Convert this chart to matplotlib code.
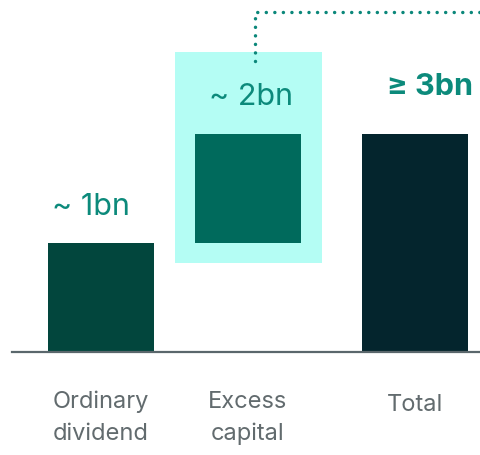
import matplotlib
matplotlib.use("Agg")
import matplotlib.pyplot as plt
from matplotlib.patches import Rectangle

categories = ["Ordinary\ndividend", "Excess\ncapital", "Total"]
bottoms = [0, 1, 0]
heights = [1, 1, 2]
value_labels = ["~ 1bn", "~ 2bn", "≥ 3bn"]

positions = [0, 1, 2.136]
bar_colors = ["#02463d", "#006a5c", "#04252d"]

plt.rcParams['font.family'] = ['Inter', 'DejaVu Sans']

fig = plt.figure(figsize=(4.81, 4.55), dpi=100)
ax = fig.add_axes([0, 0, 1, 1])
ax.set_xlim(-0.687, 2.585)
ax.set_ylim(-0.945, 3.229)

# highlight box behind excess capital
ax.add_patch(Rectangle((0.503, 0.817), 1.0, 1.935, facecolor="#b4fdf4",
                       edgecolor="none", zorder=0))

ax.bar(positions, heights, bottom=bottoms, width=0.721, color=bar_colors, zorder=2)

# dotted connector
ax.plot([1.048, 1.048, 2.7], [2.67, 3.12, 3.12], linestyle=(0, (0.01, 2.45)),
        linewidth=2.5, dash_capstyle='round', color="#0b877a", clip_on=False, zorder=3)

teal = "#0c8a7b"
ax.text(positions[0] - 0.07, 1.33, value_labels[0], ha='center', va='center',
        fontsize=22, color=teal)
ax.text(positions[1] + 0.02, 2.34, value_labels[1], ha='center', va='center',
        fontsize=22, color=teal)
ax.text(positions[2] + 0.1, 2.43, value_labels[2], ha='center', va='center',
        fontsize=22, color=teal, fontweight='bold')

gray = "#626b6e"
label_y = [-0.355, -0.355, -0.385]
for x, lab, y in zip(positions, categories, label_y):
    ax.text(x, y, lab, ha='center', va='top', fontsize=17, color=gray,
            linespacing=1.55)

ax.set_xticks([])
ax.set_yticks([])
for s in ['top', 'left', 'right']:
    ax.spines[s].set_visible(False)
ax.spines['bottom'].set_position(('data', 0))
ax.spines['bottom'].set_bounds(-0.605, 2.585)
ax.spines['bottom'].set_color("#5a676c")
ax.spines['bottom'].set_linewidth(1.6)
ax.patch.set_alpha(0)

fig.savefig("out.png", dpi=100)
